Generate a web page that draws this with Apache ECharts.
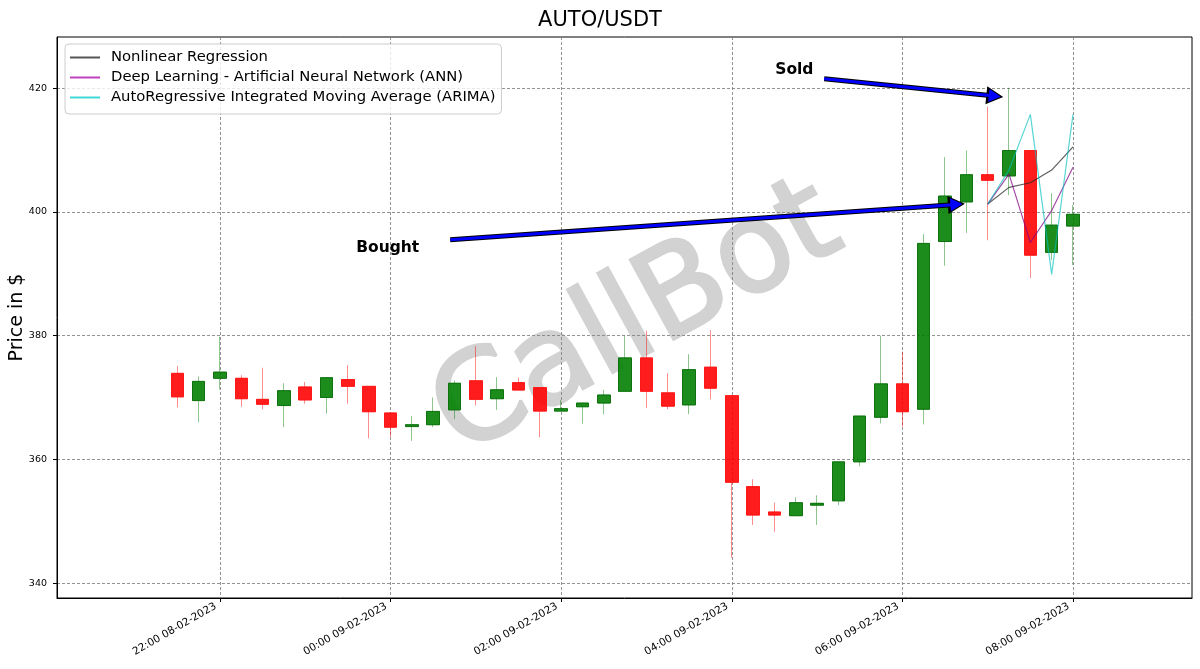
<!DOCTYPE html>
<html><head><meta charset="utf-8">
<script src="https://cdn.jsdelivr.net/npm/echarts@6/dist/echarts.min.js"></script>
<style>html,body{margin:0;padding:0;background:#fff}#c{width:1200px;height:669px}</style>
</head><body><div id="c"></div>
<script>
// ---- data ----
const times = ['21:30','21:45','22:00','22:15','22:30','22:45','23:00','23:15','23:30','23:45',
  '00:00','00:15','00:30','00:45','01:00','01:15','01:30','01:45','02:00','02:15','02:30','02:45',
  '03:00','03:15','03:30','03:45','04:00','04:15','04:30','04:45','05:00','05:15','05:30','05:45',
  '06:00','06:15','06:30','06:45','07:00','07:15','07:30','07:45','08:00'];
const opens = [373.9,369.5,373.1,373.1,369.7,368.7,371.7,370.0,372.9,371.8,367.5,365.3,365.6,368.0,372.7,369.8,372.4,371.6,367.8,368.5,369.1,371.0,376.4,370.75,368.8,374.9,370.3,355.6,351.5,350.9,352.6,353.3,359.6,366.8,372.2,368.1,395.2,401.6,406.0,405.8,409.9,393.45,397.7];
const closes = [370.1,372.6,374.1,369.8,368.9,371.1,369.6,373.2,371.8,367.7,365.2,365.6,367.75,372.3,369.7,371.25,371.2,367.8,368.2,369.1,370.4,376.4,371.0,368.6,374.5,371.5,356.3,351.0,351.0,353.0,352.9,359.6,367.0,372.2,367.7,394.9,402.55,406.0,405.1,409.9,393.0,397.85,399.6];
const lows = [368.4,366.0,371.3,368.5,368.1,365.2,369.0,367.4,369.0,363.4,363.6,363.0,365.2,366.5,368.7,368.0,371.2,363.55,367.8,365.75,367.3,371.0,368.3,368.1,367.3,369.7,344.1,349.4,348.3,350.9,349.4,352.6,358.9,365.8,365.3,365.65,391.3,396.6,395.4,402.7,389.3,392.2,391.4];
const highs = [375.1,373.4,379.8,373.6,374.8,372.3,372.5,373.2,375.2,371.8,367.5,367.0,370.0,372.75,378.3,373.3,373.25,371.6,369.6,369.1,371.2,380.0,380.8,373.9,377.0,380.9,370.3,356.8,353.0,353.9,354.2,359.6,367.0,380.0,377.4,396.4,408.85,409.9,417.0,420.05,409.9,403.0,401.1];

const predTimes = ['07:00','07:15','07:30','07:45','08:00'];
const nonlinear = [401.25,403.95,404.7,406.75,410.5];
const ann = [401.25,406.1,395.05,400.2,407.2];
const arima = [401.25,406.75,415.75,389.9,415.75];

const yTicks = [340,360,380,400,420];
const xTickTimes = ['22:00','00:00','02:00','04:00','06:00','08:00'];
const xTickLabels = ['22:00 08-02-2023','00:00 09-02-2023','02:00 09-02-2023','04:00 09-02-2023','06:00 09-02-2023','08:00 09-02-2023'];

const soldLabel = ['04:44', 423.0];
const soldArrow = [['05:05', 421.5], ['07:05', 418.7]];
const boughtLabel = ['23:58', 394.2];
const boughtArrow = [['00:42', 395.5], ['06:38', 401.2]];

// ---- helpers ----
function hrs(t){ const p=t.split(':'); let h=+p[0]+(+p[1])/60; if(h<12) h+=24; return h; }
const xs = times.map(hrs);
const candleFull = xs.map((x,i)=>[x, opens[i], closes[i], lows[i], highs[i]]);
const candleBody = xs.map((x,i)=>[x, opens[i], closes[i], Math.min(opens[i],closes[i]), Math.max(opens[i],closes[i])]);
const pX = predTimes.map(hrs);
const line = arr => pX.map((x,i)=>[x, arr[i]]);
const xTickVals = xTickTimes.map(hrs);
const ptc = p => [hrs(p[0]), p[1]];

function arrow(a, color, w, size){
  return {
    silent:true, symbol:['none','triangle'], symbolSize:size,
    lineStyle:{color:color, width:w, type:'solid', opacity:1},
    itemStyle:{color:color}, label:{show:false}, emphasis:{disabled:true},
    animation:false,
    data:[[{coord:ptc(a[0])},{coord:ptc(a[1])}]]
  };
}

const chart = echarts.init(document.getElementById('c'), null, {renderer:'canvas'});
const gridLine = {show:true, lineStyle:{color:'rgba(128,128,128,0.85)', type:[3,2], width:1}};
chart.setOption({
  animation:false,
  title:{text:'AUTO/USDT', left:'center', top:5, textStyle:{fontFamily:'DejaVu Sans', fontSize:21, fontWeight:'normal', color:'#000'}},
  graphic:[{type:'text', x:638, y:322, rotation:0.5, z:-10, silent:true,
    style:{text:'CallBot', fontFamily:'DejaVu Sans', fontSize:124, fill:'#d2d2d2', stroke:'#d2d2d2', lineWidth:3, lineJoin:'round', align:'center', verticalAlign:'middle'}}],
  legend:{
    data:['Nonlinear Regression','Deep Learning - Artificial Neural Network (ANN)','AutoRegressive Integrated Moving Average (ARIMA)'],
    orient:'vertical', left:65, top:44, itemWidth:30, itemHeight:2, itemGap:5, icon:'rect',
    padding:[6,6,9,5], borderColor:'#cccccc', borderWidth:1, borderRadius:4, backgroundColor:'rgba(255,255,255,0.8)',
    textStyle:{fontFamily:'DejaVu Sans', fontSize:14.8, color:'#000', padding:[0,0,0,6]}
  },
  grid:{left:57, right:8, top:37, bottom:71, outerBoundsMode:'none', containLabel:false, show:true, borderColor:'#000', borderWidth:1, backgroundColor:'transparent'},
  xAxis:{type:'value', min:20.09, max:33.395,
    axisLine:{show:true, onZero:false, lineStyle:{color:'#000', width:1}},
    axisTick:{show:true, length:4, customValues:xTickVals, lineStyle:{color:'#000'}},
    axisLabel:{customValues:xTickVals, rotate:30, margin:5, padding:[0,5,0,0], fontFamily:'DejaVu Sans', fontSize:10.5, color:'#000',
      formatter:v=>{ const i=xTickVals.findIndex(t=>Math.abs(t-v)<1e-6); return i>=0?xTickLabels[i]:''; }},
    splitLine:gridLine},
  yAxis:{type:'value', min:337.6, max:428.25, name:'Price in $', nameLocation:'middle', nameGap:30, nameMoveOverlap:false,
    nameTextStyle:{fontFamily:'DejaVu Sans', fontSize:19, color:'#000'},
    axisLine:{show:true, lineStyle:{color:'#000', width:1}},
    axisTick:{show:true, length:4, customValues:yTicks, lineStyle:{color:'#000'}},
    axisLabel:{customValues:yTicks, margin:10, fontFamily:'DejaVu Sans', fontSize:9.5, color:'#000'},
    splitLine:gridLine},
  series:[
    {type:'candlestick', name:'wick', data:candleFull, encode:{x:0, y:[1,2,3,4]}, barWidth:13, z:2,
      itemStyle:{color:'rgba(0,128,0,0.45)', color0:'rgba(255,0,0,0.45)', borderColor:'rgba(0,128,0,0.45)', borderColor0:'rgba(255,0,0,0.45)', borderWidth:1}},
    {type:'candlestick', name:'body', data:candleBody, encode:{x:0, y:[1,2,3,4]}, barWidth:13, z:3,
      itemStyle:{color:'rgba(0,128,0,0.8)', color0:'rgba(255,0,0,0.8)', borderColor:'rgba(10,110,10,0.9)', borderColor0:'rgba(255,20,20,0.9)', borderWidth:1}},
    {type:'line', name:'Nonlinear Regression', data:line(nonlinear), symbol:'none', z:5, color:'#555555', lineStyle:{width:1.2, color:'rgba(40,40,40,0.75)'}},
    {type:'line', name:'Deep Learning - Artificial Neural Network (ANN)', data:line(ann), symbol:'none', z:5, color:'#c040c0', lineStyle:{width:1.2, color:'rgba(128,0,128,0.7)'}},
    {type:'line', name:'AutoRegressive Integrated Moving Average (ARIMA)', data:line(arima), symbol:'none', z:5, color:'#40d8d8', lineStyle:{width:1.2, color:'rgba(0,191,191,0.65)'}},
    {type:'line', name:'annBlack', data:[], z:6, markLine:Object.assign(arrow(soldArrow,'#000',5,[18,17]),{z:6})},
    {type:'line', name:'annBlue', data:[], z:7, markLine:Object.assign(arrow(soldArrow,'#0000ff',3,[13,12]),{z:7})},
    {type:'line', name:'annBlack2', data:[], z:6, markLine:Object.assign(arrow(boughtArrow,'#000',5,[18,17]),{z:6})},
    {type:'line', name:'annBlue2', data:[], z:7, markLine:Object.assign(arrow(boughtArrow,'#0000ff',3,[13,12]),{z:7}),
      markPoint:{silent:true, symbol:'circle', symbolSize:0, animation:false,
        label:{show:true, position:'inside', fontFamily:'DejaVu Sans', fontWeight:'bold', fontSize:15.5, color:'#000'},
        data:[{coord:ptc(soldLabel), value:'Sold', label:{formatter:'Sold'}},{coord:ptc(boughtLabel), value:'Bought', label:{formatter:'Bought'}}]}}
  ]
});
</script></body></html>
